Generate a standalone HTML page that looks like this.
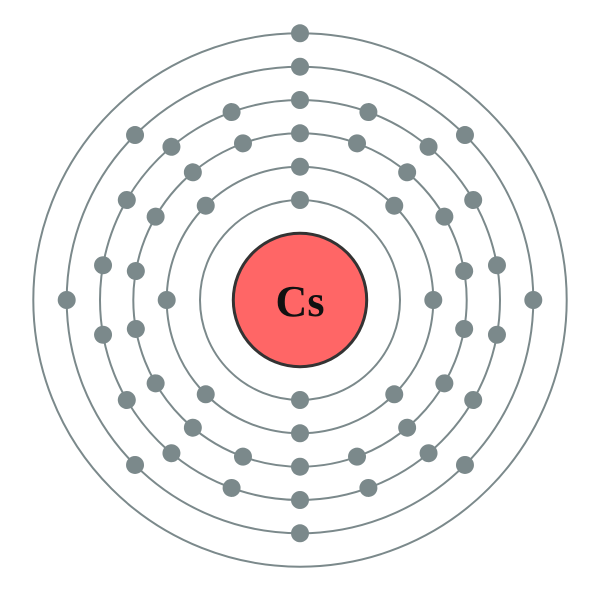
<!DOCTYPE html>
<html><head><style>html,body{margin:0;padding:0;background:#fff}svg{display:block}</style></head>
<body>
<svg width="600" height="600" viewBox="0 0 600 600" xmlns="http://www.w3.org/2000/svg">
<g fill="none" stroke="#7b898b" stroke-width="2">
<circle cx="300" cy="300" r="100"/>
<circle cx="300" cy="300" r="133.3"/>
<circle cx="300" cy="300" r="166.7"/>
<circle cx="300" cy="300" r="200"/>
<circle cx="300" cy="300" r="233.3"/>
<circle cx="300" cy="300" r="266.7"/>
</g>
<circle cx="300" cy="300" r="66.7" fill="#ff6666" stroke="#333" stroke-width="3"/>
<text x="300" y="316" text-anchor="middle" font-family="Liberation Serif, serif" font-weight="bold" font-size="44" fill="#111">Cs</text>
<g fill="#7b898b">
<!-- shell 1 -->
<g id="s1"><circle cx="300" cy="200" r="9"/><circle cx="300" cy="400" r="9"/></g>
<!-- shell 2: 8 -->
<circle cx="300" cy="166.7" r="9" transform="rotate(0 300 300)"/>
<circle cx="300" cy="166.7" r="9" transform="rotate(45 300 300)"/>
<circle cx="300" cy="166.7" r="9" transform="rotate(90 300 300)"/>
<circle cx="300" cy="166.7" r="9" transform="rotate(135 300 300)"/>
<circle cx="300" cy="166.7" r="9" transform="rotate(180 300 300)"/>
<circle cx="300" cy="166.7" r="9" transform="rotate(225 300 300)"/>
<circle cx="300" cy="166.7" r="9" transform="rotate(270 300 300)"/>
<circle cx="300" cy="166.7" r="9" transform="rotate(315 300 300)"/>
<!-- shell 3: 18 -->
<circle cx="300" cy="133.3" r="9" transform="rotate(0 300 300)"/>
<circle cx="300" cy="133.3" r="9" transform="rotate(20 300 300)"/>
<circle cx="300" cy="133.3" r="9" transform="rotate(40 300 300)"/>
<circle cx="300" cy="133.3" r="9" transform="rotate(60 300 300)"/>
<circle cx="300" cy="133.3" r="9" transform="rotate(80 300 300)"/>
<circle cx="300" cy="133.3" r="9" transform="rotate(100 300 300)"/>
<circle cx="300" cy="133.3" r="9" transform="rotate(120 300 300)"/>
<circle cx="300" cy="133.3" r="9" transform="rotate(140 300 300)"/>
<circle cx="300" cy="133.3" r="9" transform="rotate(160 300 300)"/>
<circle cx="300" cy="133.3" r="9" transform="rotate(180 300 300)"/>
<circle cx="300" cy="133.3" r="9" transform="rotate(200 300 300)"/>
<circle cx="300" cy="133.3" r="9" transform="rotate(220 300 300)"/>
<circle cx="300" cy="133.3" r="9" transform="rotate(240 300 300)"/>
<circle cx="300" cy="133.3" r="9" transform="rotate(260 300 300)"/>
<circle cx="300" cy="133.3" r="9" transform="rotate(280 300 300)"/>
<circle cx="300" cy="133.3" r="9" transform="rotate(300 300 300)"/>
<circle cx="300" cy="133.3" r="9" transform="rotate(320 300 300)"/>
<circle cx="300" cy="133.3" r="9" transform="rotate(340 300 300)"/>
<!-- shell 4: 18 -->
<circle cx="300" cy="100" r="9" transform="rotate(0 300 300)"/>
<circle cx="300" cy="100" r="9" transform="rotate(20 300 300)"/>
<circle cx="300" cy="100" r="9" transform="rotate(40 300 300)"/>
<circle cx="300" cy="100" r="9" transform="rotate(60 300 300)"/>
<circle cx="300" cy="100" r="9" transform="rotate(80 300 300)"/>
<circle cx="300" cy="100" r="9" transform="rotate(100 300 300)"/>
<circle cx="300" cy="100" r="9" transform="rotate(120 300 300)"/>
<circle cx="300" cy="100" r="9" transform="rotate(140 300 300)"/>
<circle cx="300" cy="100" r="9" transform="rotate(160 300 300)"/>
<circle cx="300" cy="100" r="9" transform="rotate(180 300 300)"/>
<circle cx="300" cy="100" r="9" transform="rotate(200 300 300)"/>
<circle cx="300" cy="100" r="9" transform="rotate(220 300 300)"/>
<circle cx="300" cy="100" r="9" transform="rotate(240 300 300)"/>
<circle cx="300" cy="100" r="9" transform="rotate(260 300 300)"/>
<circle cx="300" cy="100" r="9" transform="rotate(280 300 300)"/>
<circle cx="300" cy="100" r="9" transform="rotate(300 300 300)"/>
<circle cx="300" cy="100" r="9" transform="rotate(320 300 300)"/>
<circle cx="300" cy="100" r="9" transform="rotate(340 300 300)"/>
<!-- shell 5: 8 -->
<circle cx="300" cy="66.7" r="9" transform="rotate(0 300 300)"/>
<circle cx="300" cy="66.7" r="9" transform="rotate(45 300 300)"/>
<circle cx="300" cy="66.7" r="9" transform="rotate(90 300 300)"/>
<circle cx="300" cy="66.7" r="9" transform="rotate(135 300 300)"/>
<circle cx="300" cy="66.7" r="9" transform="rotate(180 300 300)"/>
<circle cx="300" cy="66.7" r="9" transform="rotate(225 300 300)"/>
<circle cx="300" cy="66.7" r="9" transform="rotate(270 300 300)"/>
<circle cx="300" cy="66.7" r="9" transform="rotate(315 300 300)"/>
<!-- shell 6: 1 -->
<circle cx="300" cy="33.3" r="9"/>
</g>
</svg>
</body></html>
